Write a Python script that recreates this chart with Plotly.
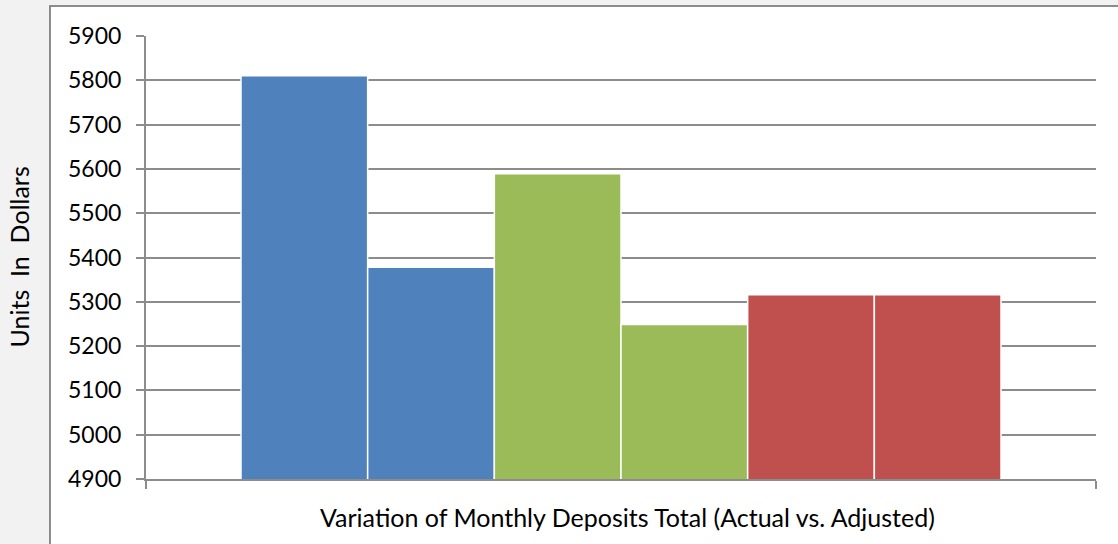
import plotly.graph_objects as go

category = ["Variation of Monthly Deposits Total (Actual vs. Adjusted)"]
bar_names = ["Actual A", "Adjusted A", "Actual B", "Adjusted B", "Actual C", "Adjusted C"]
bar_values = [5810, 5378, 5589, 5249, 5316, 5316]
bar_colors = ["#4f81bd", "#4f81bd", "#9bbb59", "#9bbb59", "#c0504d", "#c0504d"]
y_ticks = [4900, 5000, 5100, 5200, 5300, 5400, 5500, 5600, 5700, 5800, 5900]

W, H = 1118, 544
L, R, T, B = 146, 22, 36, 65
pw, ph = W - L - R, H - T - B

fig = go.Figure()
for n, v, c in zip(bar_names, bar_values, bar_colors):
    fig.add_trace(go.Bar(x=category, y=[v], name=n,
                         marker=dict(color=c, line=dict(color="white", width=1.5))))

font = "Lato, Open Sans, sans-serif"
fig.update_layout(
    width=W, height=H, margin=dict(l=L, r=R, t=T, b=B, autoexpand=False),
    barmode="group", bargap=0.2, bargroupgap=0,
    showlegend=False,
    paper_bgcolor="#f2f2f2", plot_bgcolor="white",
    font=dict(family=font, size=23, color="black"),
    xaxis=dict(showticklabels=False, ticks="outside", ticklen=8, tickwidth=2, tickcolor="#8c8c8c",
               tickson="boundaries", showline=True, linecolor="#8c8c8c", linewidth=2, showgrid=False,
               range=[-0.5, 0.5]),
    yaxis=dict(range=[4900, 5900], tickvals=y_ticks, ticks="outside", ticklen=8, tickwidth=2,
               tickcolor="#8c8c8c", showline=True, linecolor="#8c8c8c", linewidth=2,
               gridcolor="#8c8c8c", gridwidth=2, zeroline=False, ticklabelstandoff=10,
               tickfont=dict(size=23)),
    shapes=[dict(type="rect", xref="paper", yref="paper", layer="below",
                 x0=(50 - L) / pw, x1=(W + 10 - L) / pw, y0=-(B + 10) / ph, y1=(H - B - 6) / ph,
                 fillcolor="white", line=dict(color="#8c8c8c", width=2))],
    annotations=[
        dict(text=category[0], xref="paper", yref="paper", x=(627 - L) / pw, y=-(517 - (H - B)) / ph,
             showarrow=False, xanchor="center", yanchor="middle", font=dict(size=25)),
        dict(text="Units  In  Dollars", xref="paper", yref="paper", x=(18 - L) / pw, y=0.5,
             showarrow=False, textangle=-90, xanchor="center", yanchor="middle", font=dict(size=25)),
    ],
)

fig.write_html("out.html", config={"displayModeBar": False},
               post_script="document.body.style.margin='0';document.body.style.padding='0';")
